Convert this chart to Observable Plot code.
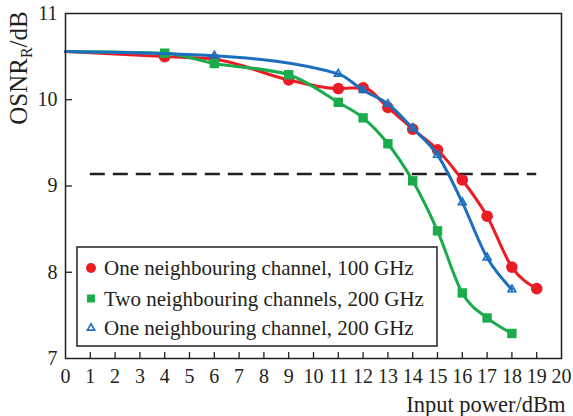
<!DOCTYPE html>
<html><head><meta charset="utf-8">
<script src="https://cdn.jsdelivr.net/npm/d3@7"></script>
<script src="https://cdn.jsdelivr.net/npm/@observablehq/plot@0.6"></script>
<style>
body{margin:0;background:#fff}
#chart{width:573px;height:416px}
</style>
</head><body><div id="chart"></div>
<script>
// ---- data ----
const seriesNames = [
  "One neighbouring channel, 100 GHz",
  "Two neighbouring channels, 200 GHz",
  "One neighbouring channel, 200 GHz"
];
const seriesColors = ["#ec1c24", "#1aab4b", "#1c6fbf"];
const startPower = 0;          // curves start at the axis
const startOsnr = 10.56;       // common starting OSNR value

const redX = [4, 6, 9, 11, 12, 13, 14, 15, 16, 17, 18, 19];
const redY = [10.50, 10.47, 10.23, 10.13, 10.14, 9.91, 9.66, 9.42, 9.07, 8.65, 8.06, 7.81];

const greenX = [4, 6, 9, 11, 12, 13, 14, 15, 16, 17, 18];
const greenY = [10.54, 10.42, 10.29, 9.97, 9.79, 9.49, 9.06, 8.48, 7.76, 7.47, 7.29];

const blueX = [6, 11, 12, 13, 14, 15, 16, 17, 18];
const blueY = [10.51, 10.30, 10.11, 9.95, 9.67, 9.36, 8.81, 8.17, 7.80];

const threshold = 9.14;
const thresholdRange = [1, 19];

const xTicks = d3.range(0, 21);
const yTicks = [7, 8, 9, 10, 11];
const xLabel = "Input power/dBm";

// ---- tables built from the arrays ----
const mk = (xs, ys) => xs.map((x, i) => ({x, y: ys[i]}));
const redPts = mk(redX, redY), greenPts = mk(greenX, greenY), bluePts = mk(blueX, blueY);
const withStart = pts => [{x: startPower, y: startOsnr}, ...pts];

const ink = "#231f20";
const font = "Liberation Serif, Times New Roman, DejaVu Serif, serif";

const plot = Plot.plot({
  width: 573, height: 416,
  marginLeft: 65, marginRight: 12, marginTop: 13, marginBottom: 58,
  x: {domain: [0, 20]},
  y: {domain: [7, 11]},
  marks: [
    Plot.axisX({ticks: xTicks, tickSize: 0, tickPadding: 10, label: null, fontSize: 20, fontFamily: font, fill: ink, tickFormat: d => String(d)}),
    Plot.tickX(xTicks.slice(1, -1), {x: d => d, insetTop: 339, stroke: ink, strokeWidth: 1.3}),
    Plot.axisY({ticks: yTicks, tickSize: 0, tickPadding: 8, label: null, fontSize: 20, fontFamily: font, fill: ink, tickFormat: d => String(d)}),
    Plot.tickY(yTicks.slice(1, -1), {y: d => d, insetRight: 489, stroke: ink, strokeWidth: 1.3}),
    Plot.ruleY([threshold], {x1: thresholdRange[0], x2: thresholdRange[1], stroke: ink, strokeWidth: 2.6, strokeDasharray: "15,8"}),
    Plot.line(withStart(redPts), {x: "x", y: "y", stroke: seriesColors[0], strokeWidth: 3, curve: "monotone-x"}),
    Plot.dot(redPts, {x: "x", y: "y", r: 5.8, fill: seriesColors[0], symbol: "circle"}),
    Plot.line(withStart(greenPts), {x: "x", y: "y", stroke: seriesColors[1], strokeWidth: 3, curve: "monotone-x"}),
    Plot.dot(greenPts, {x: "x", y: "y", r: 5.3, fill: seriesColors[1], symbol: "square"}),
    Plot.line(withStart(bluePts), {x: "x", y: "y", stroke: seriesColors[2], strokeWidth: 3, curve: "monotone-x"}),
    Plot.dot(bluePts, {x: "x", y: "y", r: 2.9, fill: "none", stroke: seriesColors[2], strokeWidth: 1.6, symbol: "triangle"}),
    Plot.frame({stroke: ink, strokeWidth: 1.5}),
    Plot.text([xLabel], {frameAnchor: "bottom-right", dx: 4, dy: 53, textAnchor: "end", lineAnchor: "bottom", fontSize: 22.5, fontFamily: font, fill: ink})
  ]
});
plot.setAttribute("font-family", font);
document.getElementById("chart").appendChild(plot);

// ---- y-axis title with subscript ----
const svg = d3.select(plot);
const yt = svg.append("text")
  .attr("transform", "translate(27,68) rotate(-90)")
  .attr("text-anchor", "middle")
  .attr("fill", ink)
  .attr("font-family", font)
  .attr("font-size", 25);
yt.append("tspan").text("OSNR");
yt.append("tspan").attr("dy", 5).attr("font-size", 16).text("R");
yt.append("tspan").attr("dy", -5).text("/dB");

// ---- legend ----
const lg = svg.append("g").attr("font-family", font).attr("text-anchor", "start");
lg.append("rect").attr("x", 77).attr("y", 247).attr("width", 360).attr("height", 99)
  .attr("fill", "white").attr("stroke", ink).attr("stroke-width", 1.5);
const rowsY = [268, 298.5, 328];
const symbols = [d3.symbolCircle, d3.symbolSquare, d3.symbolTriangle];
const symSizes = [Math.PI * 25, 64, Math.PI * 7.5];
seriesNames.forEach((name, i) => {
  const p = lg.append("path")
    .attr("transform", `translate(91,${rowsY[i]})`)
    .attr("d", d3.symbol(symbols[i], symSizes[i])());
  if (i === 2) p.attr("fill", "none").attr("stroke", seriesColors[i]).attr("stroke-width", 1.6);
  else p.attr("fill", seriesColors[i]);
  lg.append("text").attr("x", 104).attr("y", rowsY[i] + 7.3)
    .attr("text-anchor", "start")
    .attr("fill", ink).attr("font-size", 21).text(name);
});
</script>
</body></html>
